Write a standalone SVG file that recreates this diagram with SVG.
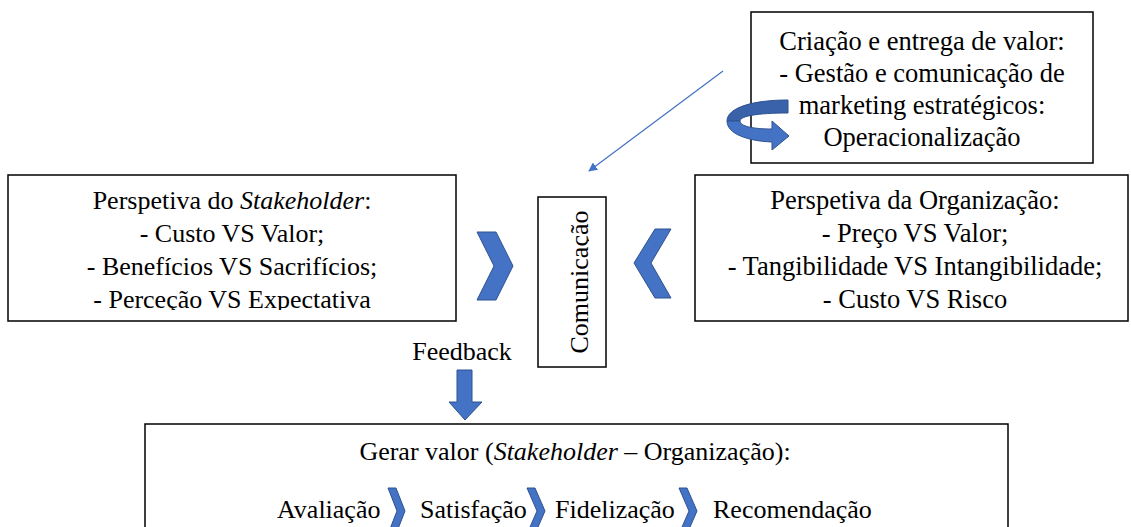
<svg xmlns="http://www.w3.org/2000/svg" width="1131" height="527" viewBox="0 0 1131 527" font-family="Liberation Serif, Times New Roman, Tinos, Noto Serif, DejaVu Serif, serif">
<style>
.box{fill:#fff;stroke:#000;stroke-width:1.5}
text{font-family:"Liberation Serif","Times New Roman",Tinos,"Noto Serif","DejaVu Serif",serif}
.t{font-size:26px;fill:#000;text-anchor:middle}
.tb{font-size:26.5px;fill:#000;text-anchor:middle}
.ts{font-size:26px;fill:#000}
.shape{fill:#4472C4;stroke:#2F528F;stroke-width:1}
</style>
<defs>
<marker id="ah" viewBox="0 0 10 10" refX="9" refY="5" markerWidth="9" markerHeight="9" orient="auto" markerUnits="userSpaceOnUse">
<path d="M0,0 L10,5 L0,10 Z" fill="#4472C4"/>
</marker>
<clipPath id="cl"><rect x="8" y="175" width="448" height="135"/></clipPath>
<clipPath id="cr"><rect x="695" y="175" width="433" height="135"/></clipPath>
<clipPath id="cc"><rect x="538" y="197" width="51" height="170"/></clipPath>
</defs>

<g id="connectors">
<line x1="723" y1="71" x2="589" y2="171" stroke="#4472C4" stroke-width="1.2" marker-end="url(#ah)"/>
<polygon class="shape" points="477,232 496,232 513,266 496,300 477,300 494,266"/>
<polygon class="shape" points="655,229 671,229 651,263 671,298 655,298 634,263"/>
<polygon class="shape" points="457,370 472,370 472,402 482,402 465,420 449,402 457,402"/>
</g>

<g id="node-criacao">
<rect class="box" x="751" y="12" width="342" height="151"/>
<text class="tb" x="922" y="50">Criação e entrega de valor:</text>
<text class="tb" x="922" y="82">- Gestão e comunicação de</text>
<text class="tb" x="922" y="114">marketing estratégicos:</text>
<text class="tb" x="922" y="146">Operacionalização</text>
</g>

<g id="curved-arrow">
<path d="M788,100 C752,100 727,108 727,121 L740,121 C740,116 758,113 788,113 Z" fill="#3A62AA" stroke="#2F528F" stroke-width="1"/>
<path class="shape" d="M727,121 C727,134 748,141 772,142 L772,150 L789,136 L772,121 L772,129 C752,129 740,126 740,121 Z"/>
</g>

<g id="node-stakeholder">
<rect class="box" x="8" y="175" width="448" height="146"/>
<g clip-path="url(#cl)">
<text class="t" x="232" y="209">Perspetiva do <tspan font-style="italic">Stakeholder</tspan>:</text>
<text class="t" x="232" y="242">- Custo VS Valor;</text>
<text class="t" x="232" y="275">- Benefícios VS Sacrifícios;</text>
<text class="t" x="232" y="308">- Perceção VS Expectativa</text>
</g>
</g>

<g id="node-comunicacao">
<rect class="box" x="538" y="197" width="68" height="170"/>
<g clip-path="url(#cc)">
<text class="t" transform="translate(588,282) rotate(-90)">Comunicação</text>
</g>
</g>

<g id="node-organizacao">
<rect class="box" x="695" y="175" width="433" height="146"/>
<g clip-path="url(#cr)">
<text class="tb" x="915" y="209">Perspetiva da Organização:</text>
<text class="tb" x="915" y="242">- Preço VS Valor;</text>
<text class="tb" x="915" y="275">- Tangibilidade VS Intangibilidade;</text>
<text class="tb" x="915" y="308">- Custo VS Risco</text>
</g>
</g>

<g id="label-feedback">
<text class="t" x="462" y="360">Feedback</text>
</g>

<g id="node-gerar">
<rect class="box" x="145" y="424" width="863" height="120"/>
<text class="t" x="575" y="460">Gerar valor (<tspan font-style="italic">Stakeholder</tspan> – Organização):</text>
<text class="ts" x="277" y="518">Avaliação</text>
<polygon class="shape" points="388,488 396,488 405,511 396,534 388,534 397,511"/>
<text class="ts" x="420" y="518">Satisfação</text>
<polygon class="shape" points="527,488 535,488 545,511 535,534 527,534 537,511"/>
<text class="ts" x="555" y="518">Fidelização</text>
<polygon class="shape" points="679,488 687,488 697,511 687,534 679,534 689,511"/>
<text class="ts" x="713" y="518">Recomendação</text>
</g>
</svg>
